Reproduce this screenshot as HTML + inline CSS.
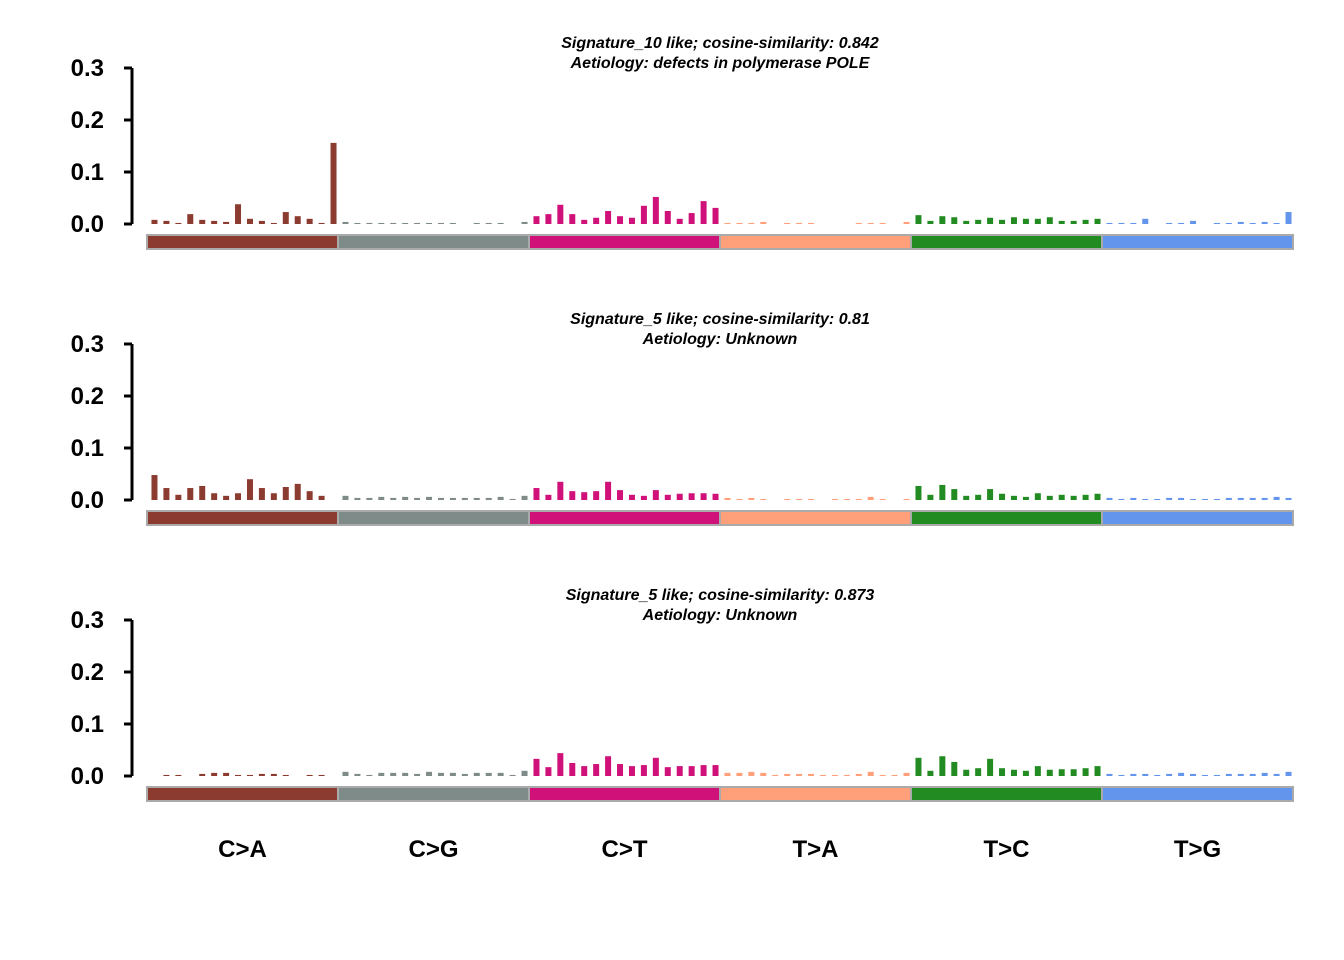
<!DOCTYPE html>
<html><head><meta charset="utf-8"><style>
body{margin:0;background:#fff;}
svg{display:block;font-family:"Liberation Sans",Arial,sans-serif;}
</style></head><body>
<svg id="chart" width="1344" height="960" viewBox="0 0 1344 960" xmlns="http://www.w3.org/2000/svg"></svg>
<script>
const categories = ["C>A","C>G","C>T","T>A","T>C","T>G"];
const groupColors = ["#8B3B30","#7E8B89","#D0117A","#FFA07A","#228B22","#6495ED"];
const yTicks = [0, 0.1, 0.2, 0.3];
const yTickLabels = ["0.0","0.1","0.2","0.3"];
const titles1 = ["Signature_10 like; cosine-similarity: 0.842","Aetiology: defects in polymerase POLE"];
const titles2 = ["Signature_5 like; cosine-similarity: 0.81","Aetiology: Unknown"];
const titles3 = ["Signature_5 like; cosine-similarity: 0.873","Aetiology: Unknown"];
const sig1 = [
 .008,.006,.002,.019,.008,.006,.004,.038,.010,.006,.002,.023,.015,.010,.002,.156,
 .004,.002,.002,.002,.002,.002,.002,.002,.002,.002,0,.002,.002,.002,0,.004,
 .015,.019,.037,.019,.008,.012,.025,.015,.012,.035,.052,.025,.010,.021,.044,.031,
 .002,.002,.002,.004,0,.002,.002,.002,0,0,0,.002,.002,.002,0,.004,
 .017,.006,.015,.013,.006,.008,.012,.008,.013,.010,.010,.013,.006,.006,.008,.010,
 .002,.002,.002,.010,0,.002,.002,.006,0,.002,.002,.004,.002,.004,.002,.023];
const sig2 = [
 .048,.023,.010,.023,.027,.013,.008,.013,.040,.023,.013,.025,.031,.017,.008,0,
 .008,.004,.004,.006,.004,.006,.004,.006,.004,.004,.004,.004,.004,.006,.002,.008,
 .023,.010,.035,.017,.015,.017,.035,.019,.010,.008,.019,.010,.012,.013,.013,.012,
 .004,.002,.004,.002,0,.002,.002,.002,0,.002,.002,.002,.006,.002,0,.002,
 .027,.010,.029,.021,.008,.010,.021,.012,.008,.006,.013,.008,.010,.008,.010,.012,
 .004,.002,.004,.002,.002,.004,.004,.002,.002,.002,.004,.004,.004,.004,.006,.004];
const sig3 = [
 0,.002,.002,0,.004,.006,.006,.002,.002,.004,.004,.002,0,.002,.002,0,
 .008,.004,.002,.006,.006,.006,.004,.008,.006,.006,.004,.006,.006,.006,.002,.010,
 .033,.017,.044,.025,.019,.023,.038,.023,.019,.021,.035,.017,.019,.019,.021,.021,
 .006,.006,.008,.006,.002,.004,.004,.004,.002,.002,.002,.004,.008,.002,.002,.006,
 .035,.010,.038,.027,.012,.015,.033,.015,.012,.010,.019,.012,.013,.013,.015,.019,
 .004,.002,.004,.004,.002,.004,.006,.004,.002,.002,.004,.004,.004,.006,.004,.008];
const panels = [{vals:sig1,titles:titles1,base:224},{vals:sig2,titles:titles2,base:500},{vals:sig3,titles:titles3,base:776}];

const NS="http://www.w3.org/2000/svg";
const svg=document.getElementById('chart');
function mk(tag,attrs,parent){const e=document.createElementNS(NS,tag);for(const k in attrs)e.setAttribute(k,attrs[k]);(parent||svg).appendChild(e);return e;}
const X0=147, X1=1293, N=96, step=(X1-X0)/N, PXU=520;
const xOf=i=>X0+1.5+(i+0.5)*step;
panels.forEach((p,pi)=>{
  const g=mk('g',{});
  
  
  const yOf=v=>p.base-v*PXU;
  p.titles.forEach((t,ti)=>{
    const tx=mk('text',{x:720,y:p.base-176+ti*20,'text-anchor':'middle','font-size':'16','font-weight':'bold','font-style':'italic'},g);
    tx.textContent=t;
    
    
  });
  const ax=mk('line',{x1:132,x2:132,y1:yOf(0.3),y2:yOf(0),stroke:'#000','stroke-width':3},g);
  
  
  yTicks.forEach((v,ti)=>{
    mk('line',{x1:124,x2:132,y1:yOf(v),y2:yOf(v),stroke:'#000','stroke-width':3},g);
    const tl=mk('text',{x:104,y:yOf(v)+8,'text-anchor':'end','font-size':'24','font-weight':'bold'},g);
    tl.textContent=yTickLabels[ti];
    
    
  });
  p.vals.forEach((v,i)=>{
    const h=v*PXU;
    const r=mk('rect',{x:xOf(i)-3,y:yOf(v),width:6,height:Math.max(h,0),fill:groupColors[Math.floor(i/16)]},g);
    
    
  });
  categories.forEach((c,ci)=>{
    const r=mk('rect',{x:X0+ci*16*step,y:p.base+11,width:16*step,height:14,fill:groupColors[ci],stroke:'#aaa','stroke-width':2},g);
    
    
  });
});
categories.forEach((c,ci)=>{
  const t=mk('text',{x:X0+(ci+0.5)*16*step,y:857,'text-anchor':'middle','font-size':'24','font-weight':'bold'});
  t.textContent=c;
  
  
});
</script>
</body></html>
